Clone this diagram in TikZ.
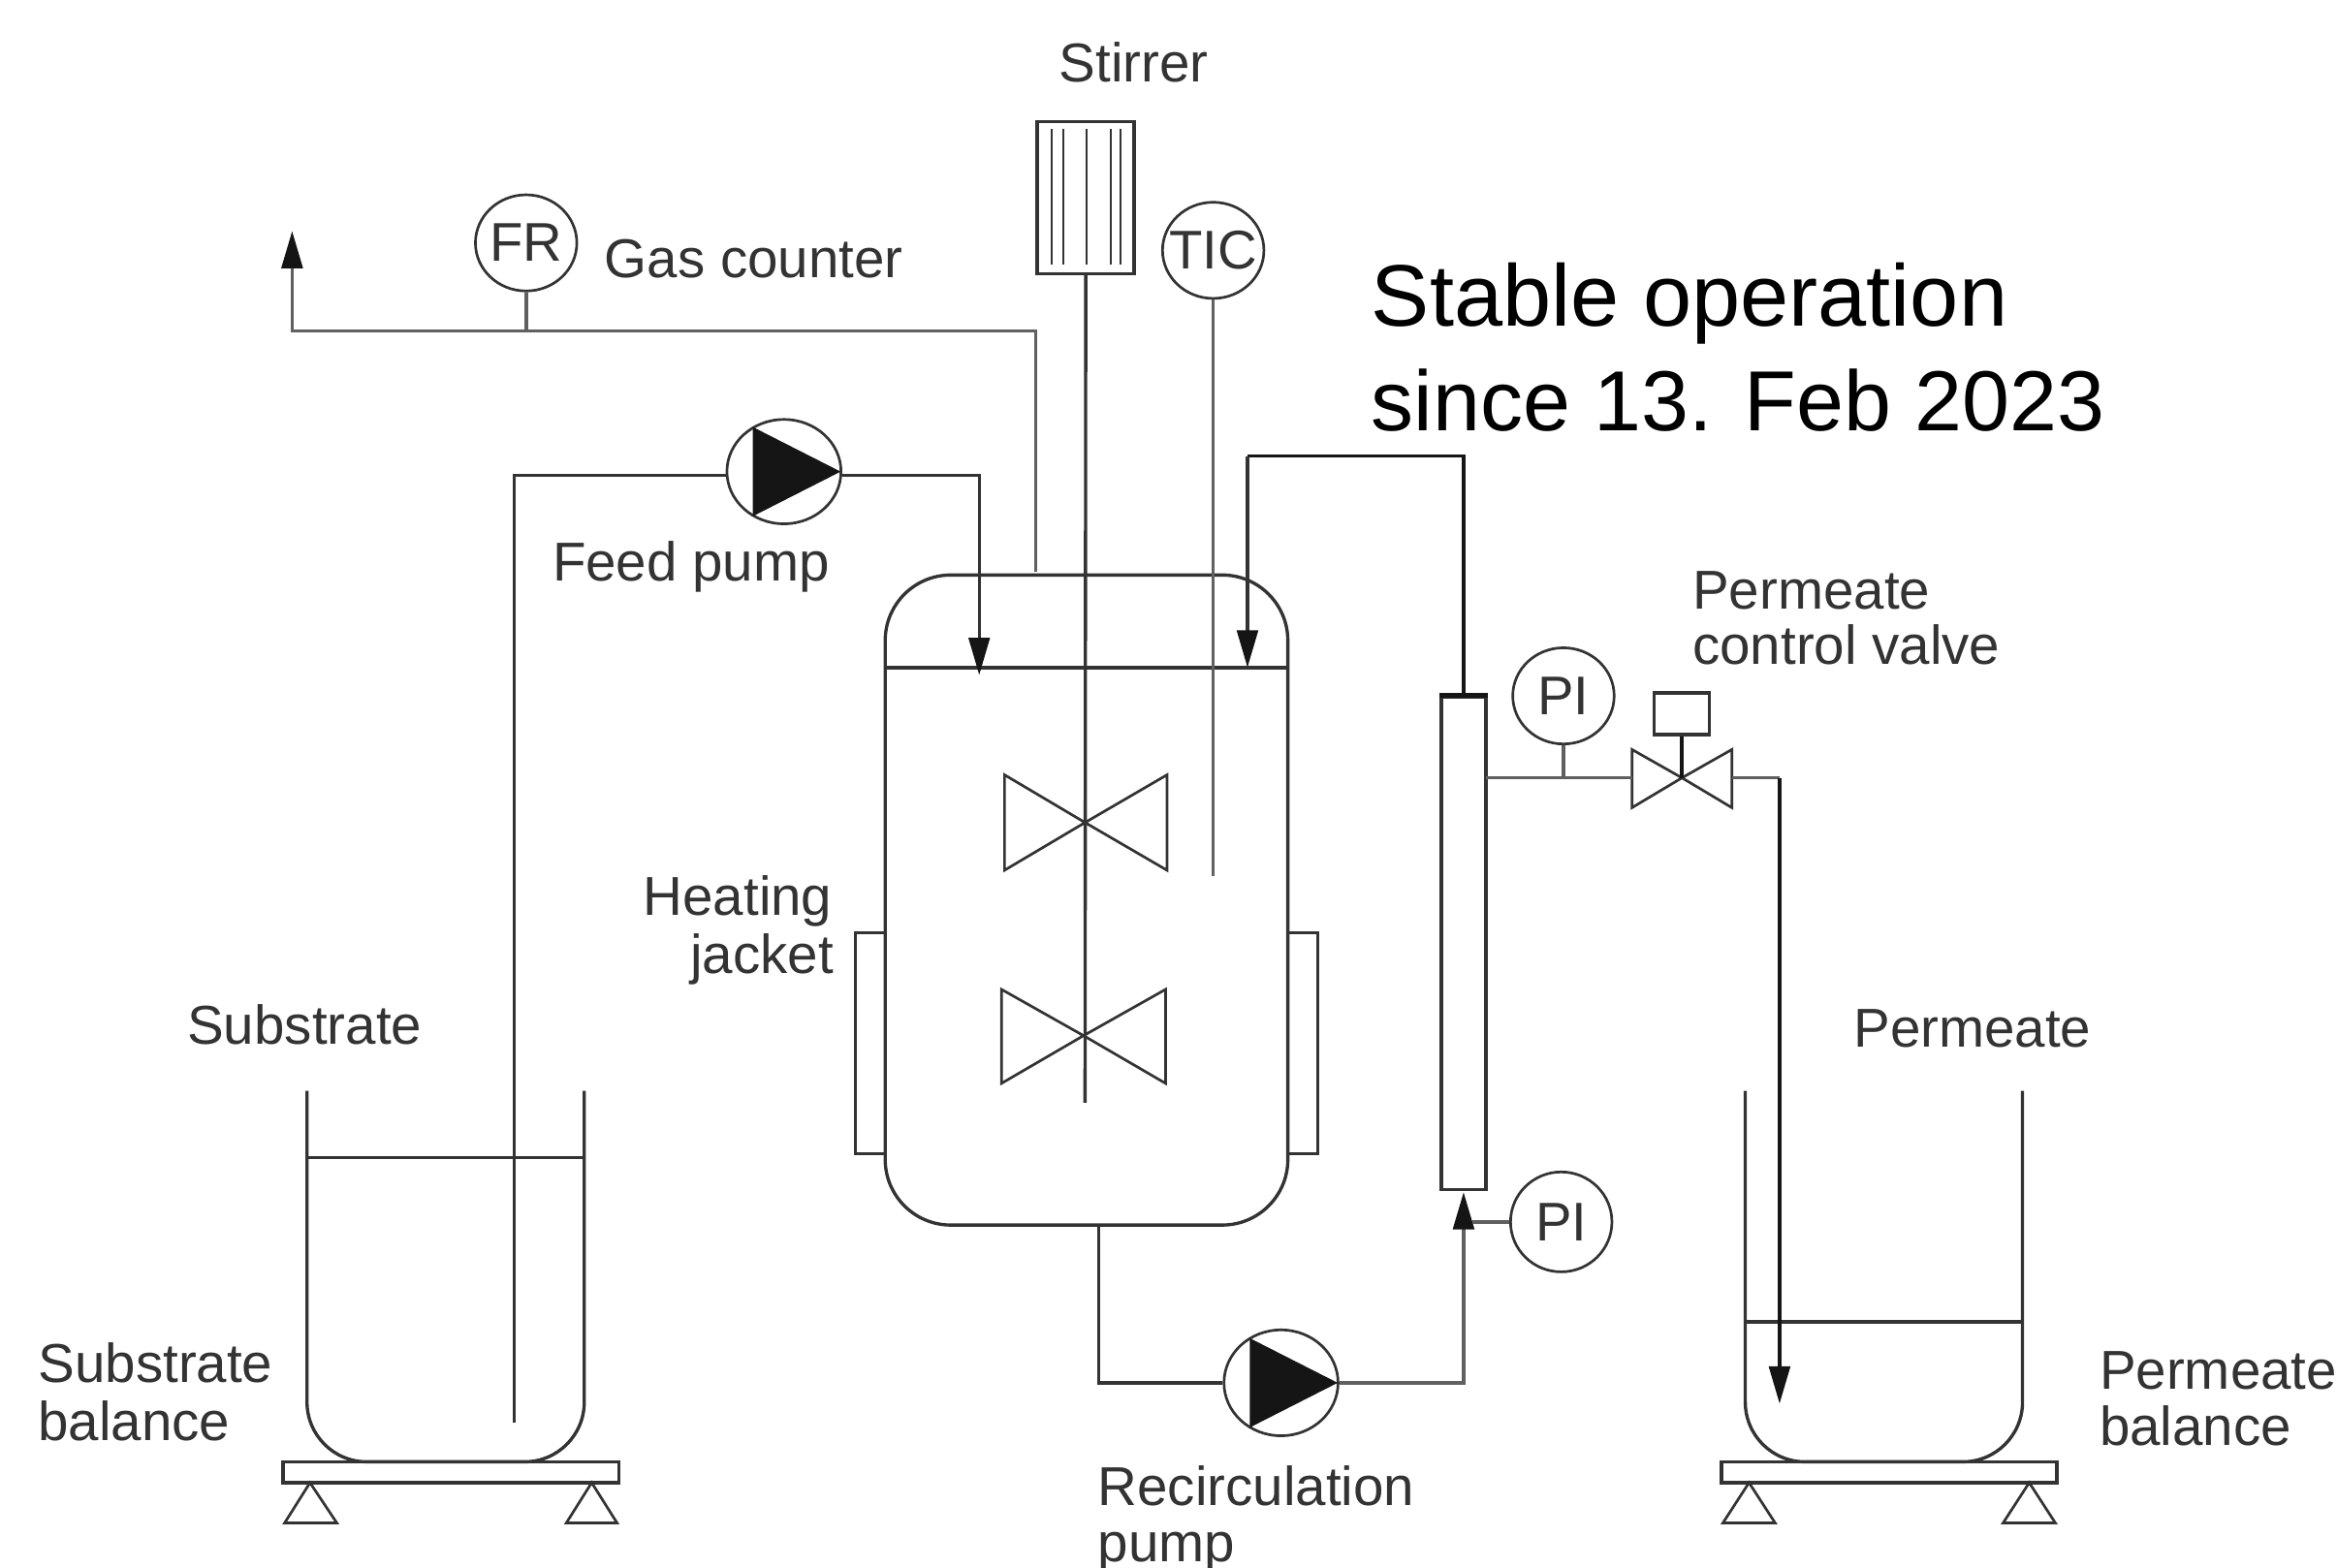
\documentclass[tikz,border=0pt]{standalone}
\usepackage{fontspec}
\setmainfont{Liberation Sans}
\usetikzlibrary{arrows.meta,shapes.geometric}
\definecolor{ln}{HTML}{333333}
\definecolor{lnlight}{HTML}{606060}
\definecolor{ink}{HTML}{151515}
\tikzset{
  x=0.01cm,y=-0.01cm,
  pipe/.style={draw=ln,line width=0.62pt},
  lightpipe/.style={draw=lnlight,line width=0.68pt},
  blackpipe/.style={draw=ink,line width=0.65pt},
  flow/.style={-{Triangle[length=0.25cm,width=0.14cm,color=ink]}},
  thinline/.style={draw=ln,line width=0.5pt},
  rectbox/.style={draw=ln,line width=0.62pt,inner sep=0pt,rectangle},
  instr/.style={ellipse,draw=ln,line width=0.5pt,inner sep=0pt,minimum width=0.68cm,minimum height=0.645cm,font=\fontsize{10.4pt}{12pt}\selectfont,text=ln},
  pumpc/.style={ellipse,draw=ln,line width=0.5pt,fill=white,inner sep=0pt,minimum width=0.765cm,minimum height=0.70cm},
  lbl/.style={anchor=base west,inner sep=0pt,xshift=-0.01cm,font=\fontsize{10.45pt}{12pt}\selectfont,text=ln},
  lblr/.style={anchor=base east,inner sep=0pt,font=\fontsize{10.45pt}{12pt}\selectfont,text=ln},
  big/.style={anchor=base west,inner sep=0pt,text=black},
}
\begin{document}
\begin{tikzpicture}
\useasboundingbox (0,0) rectangle (1568,1052.2);

% instruments and equipment
\node[rectbox,minimum width=0.65cm,minimum height=1.02cm] (stirrer) at (728.5,132.5) {};
\node[instr] (fr) at (353,163) {\makebox[0pt]{FR}};
\node[instr] (tic) at (814,168) {\makebox[0pt]{TIC}};
\node[instr] (pi1) at (1049,467) {\makebox[0pt]{PI}};
\node[instr,minimum height=0.67cm] (pi2) at (1047.5,820) {\makebox[0pt]{PI}};
\node[pumpc] (feed) at (526,316.5) {};
\node[pumpc,minimum height=0.71cm] (recirc) at (859.5,928) {};
\node[rectbox,rounded corners=0.44cm,minimum width=2.70cm,minimum height=4.36cm] (vessel) at (729,604) {};
\node[rectbox,minimum width=0.20cm,minimum height=1.48cm] (jackL) at (584,700) {};
\node[rectbox,minimum width=0.20cm,minimum height=1.48cm] (jackR) at (874,700) {};
\node[rectbox,minimum width=0.30cm,minimum height=3.30cm] (membrane) at (982,633) {};
\node[rectbox,minimum width=0.37cm,minimum height=0.28cm] (actuator) at (1128.5,479) {};
\node[rectbox,minimum width=2.25cm,minimum height=0.14cm] (scaleL) at (302.5,988) {};
\node[rectbox,minimum width=2.25cm,minimum height=0.14cm] (scaleR) at (1267.5,988) {};

% stirrer bars
\foreach \xx in {705.7,713.4,729,745.3,751.8}
  \draw[thinline] (\xx,86.5) -- (\xx,177.5);

% junctions
\coordinate (gasEnd) at (196,155);
\coordinate (gasC) at (196,222);
\coordinate (gasT) at (695,222);
\coordinate (gasV) at (695,384);
\coordinate (frJ) at (353,222);
\coordinate (feedIn) at (345,955);
\coordinate (feedC) at (345,319);
\coordinate (feedR) at (657,319);
\coordinate (feedEnd) at (657,453);
\coordinate (retEnd) at (837,448);
\coordinate (retC) at (837,306);
\coordinate (retT) at (982,306);
\coordinate (shaftEnd) at (728,740);
\coordinate (ticEnd) at (814,588);
\coordinate (botV) at (737,822);
\coordinate (botC) at (737,928);
\coordinate (botR) at (982,928);
\coordinate (memIn) at (982,800);
\coordinate (piJ) at (988,820);
\coordinate (outL) at (997,522);
\coordinate (outJ) at (1049,522);
\coordinate (valveL) at (1095,522);
\coordinate (valveC) at (1128.5,522);
\coordinate (valveR) at (1162,522);
\coordinate (outC) at (1194,522);
\coordinate (outEnd) at (1194,942);

% tanks
\draw[pipe,rounded corners=0.40cm] (206,732) -- (206,981) -- (392,981) -- (392,732);
\draw[pipe] (206,777) -- (392,777);
\draw[pipe,rounded corners=0.40cm] (1171,732) -- (1171,981) -- (1357,981) -- (1357,732);
\draw[pipe] (1171,887) -- (1357,887);

% balance feet
\draw[thinline] (208,995) -- (191,1022) -- (226,1022) -- cycle;
\draw[thinline] (397,995) -- (380,1022) -- (414,1022) -- cycle;
\draw[thinline] (1173.5,995) -- (1156,1022) -- (1191,1022) -- cycle;
\draw[thinline] (1361.5,995) -- (1344,1022) -- (1379,1022) -- cycle;

% vessel liquid level
\draw[pipe] (594,448) -- (864,448);

% impellers
\draw[thinline] (728,552) -- (674,520) -- (674,584) -- (728,552) -- (783,520) -- (783,584) -- cycle;
\draw[thinline] (727,695) -- (672,664) -- (672,727) -- (727,695) -- (782,664) -- (782,727) -- cycle;

% valve
\draw[thinline] (valveC) -- (1095,503) -- (1095,542) -- (valveC) -- (1162,503) -- (1162,542) -- cycle;
\draw[blackpipe] (actuator.south) -- (valveC);

% membrane top
\draw[blackpipe,line width=0.9pt] (membrane.north west) -- (membrane.north east);

% connectors
\draw[pipe] (stirrer.south) -- (shaftEnd);
\draw[lightpipe] (tic.south) -- (ticEnd);
\draw[lightpipe,flow] (gasV) -- (gasT) -- (gasC) -- (gasEnd);
\draw[lightpipe] (fr.south) -- (frJ);
\draw[pipe] (feedIn) -- (feedC) -- (feed.west |- feedC);
\draw[pipe,flow] (feed.east |- feedR) -- (feedR) -- (feedEnd);
\draw[blackpipe] (membrane.north) -- (retT) -- (retC);
\draw[pipe,flow] (retC) -- (retEnd);
\draw[pipe] (botV) -- (botC) -- (recirc.west);
\draw[lightpipe,flow] (recirc.east) -- (botR) -- (memIn);
\draw[lightpipe] (pi2.west) -- (piJ);
\draw[lightpipe] (outL) -- (valveL);
\draw[lightpipe] (pi1.south) -- (outJ);
\draw[lightpipe] (valveR) -- (outC);
\draw[blackpipe,flow] (outC) -- (outEnd);

% pump triangles
\fill[ink] ([shift={(-21,-30)}]feed.center) -- ([shift={(38,0)}]feed.center) -- ([shift={(-21,30)}]feed.center) -- cycle;
\fill[ink] ([shift={(-21,-30)}]recirc.center) -- ([shift={(38,0)}]recirc.center) -- ([shift={(-21,30)}]recirc.center) -- cycle;

% labels
\node[lbl] (tStirrer) at (711,55) {Stirrer};
\node[lbl] (tGas) at (406,186) {Gas counter};
\node[lbl] (tFeed) at (371,390) {Feed pump};
\node[lbl] (tPerm1) at (1136,409) {Permeate};
\node[lbl] (tPerm2) at (1136,446) {control valve};
\node[lblr] (tHeat1) at (559,614) {Heating};
\node[lblr] (tHeat2) at (560,653) {jacket};
\node[lbl] (tSub) at (126,701) {Substrate};
\node[lbl] (tSubB1) at (26,928) {Substrate};
\node[lbl] (tSubB2) at (26,967) {balance};
\node[lbl] (tRec1) at (737,1010) {Recirculation};
\node[lbl] (tRec2) at (737,1048) {pump};
\node[lbl] (tPermT) at (1244,703) {Permeate};
\node[lbl] (tPermB1) at (1409,932) {Permeate};
\node[lbl] (tPermB2) at (1409,970) {balance};
\node[big,font=\fontsize{16.67pt}{20pt}\selectfont] (tStable1) at (919.5,219) {Stable operation};
\node[big,font=\fontsize{16.27pt}{20pt}\selectfont] (tStable2) at (919.5,289) {since 13. Feb 2023};
\end{tikzpicture}
\end{document}
